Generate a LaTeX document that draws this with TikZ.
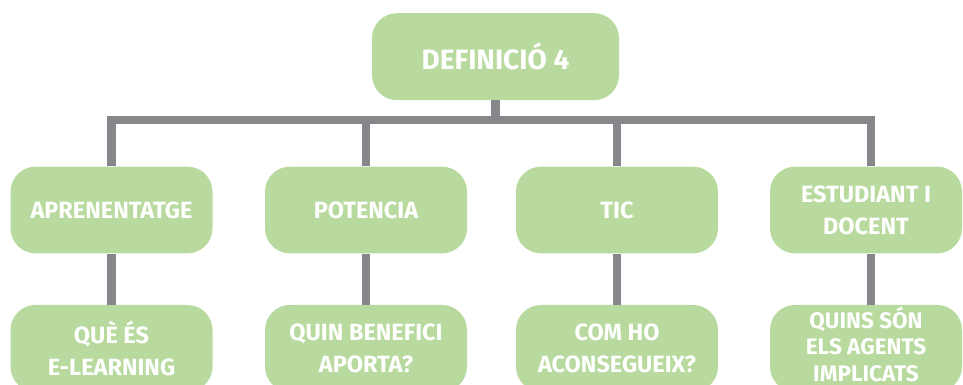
\documentclass[tikz,border=0pt]{standalone}
\usepackage{fontspec}
\setmainfont{Fira Sans}[UprightFont=* Bold]
\definecolor{leafgreen}{HTML}{B8DA9E}
\definecolor{busgray}{HTML}{87878B}
\tikzstyle{topbox} = [rectangle, rounded corners=25pt, minimum width=247pt, minimum height=87pt, inner sep=0pt, text centered, fill=leafgreen, text=white, font=\fontsize{28}{34}\selectfont]
\tikzstyle{catbox} = [rectangle, rounded corners=25pt, minimum width=202pt, minimum height=86.7pt, inner sep=0pt, align=center, fill=leafgreen, text=white, font=\fontsize{23.5}{32}\selectfont]
\tikzstyle{link} = [line width=8.5pt, draw=busgray]

\begin{document}
\begin{tikzpicture}[x=1pt, y=-1pt, node distance=138.3pt]
\useasboundingbox (0,0) rectangle (963,385);

% Nodes
\node (definicio) [topbox] at (495.5,56.7) {DEFINICIÓ 4};
\node (aprenentatge) [catbox] at (111.5,210) {APRENENTATGE};
\node (potencia) [catbox] at (366,210) {POTENCIA};
\node (tic) [catbox] at (617,210) {TIC};
\node (estudiant) [catbox, minimum width=192pt] at (866,210) {ESTUDIANT I\\DOCENT};
\node (elearning) [catbox, below of=aprenentatge] {QUÈ ÉS\\E-LEARNING};
\node (benefici) [catbox, below of=potencia] {QUIN BENEFICI\\APORTA?};
\node (aconsegueix) [catbox, below of=tic] {COM HO\\ACONSEGUEIX?};
\node (agents) [catbox, minimum width=192pt, below of=estudiant, font=\fontsize{22.5}{26.5}\selectfont] {QUINS SÓN\\ELS AGENTS\\IMPLICATS\\[-18pt]\mbox{}};

% Connectors
\draw [link] (definicio.south) -- ++(0,19.5) -| (aprenentatge.north);
\draw [link] (definicio.south) -- ++(0,19.5) -| (potencia.north);
\draw [link] (definicio.south) -- ++(0,19.5) -| (tic.north);
\draw [link] (definicio.south) -- ++(0,19.5) -| ([xshift=5pt]estudiant.north);
\draw [link] (aprenentatge) -- (elearning);
\draw [link] (potencia) -- (benefici);
\draw [link] (tic) -- (aconsegueix);
\draw [link] ([xshift=5pt]estudiant.south) -- ([xshift=5pt]agents.north);

\end{tikzpicture}
\end{document}
